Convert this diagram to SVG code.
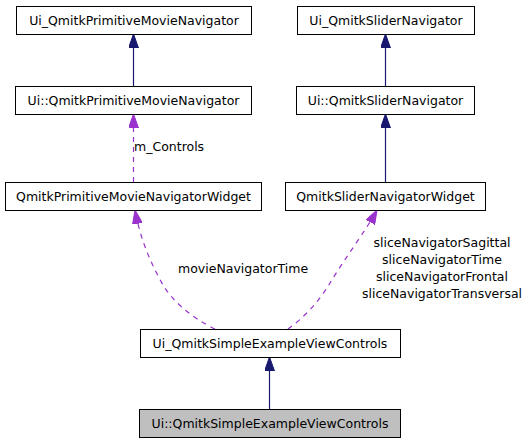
<svg xmlns="http://www.w3.org/2000/svg" width="528" height="443" viewBox="0 0 528 443">
<style>
.box{fill:#ffffff;stroke:#000000;stroke-width:1}
.cur{fill:#bfbfbf;stroke:#000000;stroke-width:1}
text{font-family:"DejaVu Sans",sans-serif;font-size:12.5px;fill:#000000}
.c{text-anchor:middle}
.inh{fill:none;stroke:#191970;stroke-width:1.2}
.use{fill:none;stroke:#9a32cd;stroke-width:1.2;stroke-dasharray:5,5}
</style>
<defs>
<marker id="an" markerUnits="userSpaceOnUse" viewBox="0 0 14 10" markerWidth="14" markerHeight="10" refX="14" refY="5" orient="auto"><path d="M0,0 L14,5 L0,10 z" fill="#191970" stroke="#191970"/></marker>
<marker id="ap" markerUnits="userSpaceOnUse" viewBox="0 0 14 10" markerWidth="14" markerHeight="10" refX="14" refY="5" orient="auto"><path d="M0,0 L14,5 L0,10 z" fill="#9a32cd" stroke="#9a32cd"/></marker>
</defs>
<rect width="528" height="443" fill="#ffffff"/>
<g id="connectors">
<path class="inh" d="M133.5,86 L133.5,34" marker-end="url(#an)"/>
<path class="use" d="M133.5,182 L133.5,114" marker-end="url(#ap)"/>
<path class="inh" d="M385.5,86 L385.5,34" marker-end="url(#an)"/>
<path class="inh" d="M385.5,182 L385.5,114" marker-end="url(#an)"/>
<path class="use" d="M215,329 C190,317 172,300 163,285 C150,262 140,238 135,210" marker-end="url(#ap)"/>
<path class="use" d="M288,329 C305,317 320,300 330,283 C345,258 365,232 377,210" marker-end="url(#ap)"/>
<path class="inh" d="M269.5,409 L269.5,357" marker-end="url(#an)"/>
<text x="134" y="151">m_Controls</text>
<text x="178" y="273">movieNavigatorTime</text>
<text class="c" x="442" y="247">sliceNavigatorSagittal</text>
<text class="c" x="442" y="264">sliceNavigatorTime</text>
<text class="c" x="442" y="281">sliceNavigatorFrontal</text>
<text class="c" x="442" y="298">sliceNavigatorTransversal</text>
</g>
<g id="n1"><rect class="box" x="16.5" y="6.5" width="235" height="28"/><text class="c" x="134" y="25">Ui_QmitkPrimitiveMovieNavigator</text></g>
<g id="n2"><rect class="box" x="15.5" y="86.5" width="236" height="28"/><text class="c" x="133.5" y="105">Ui::QmitkPrimitiveMovieNavigator</text></g>
<g id="n3"><rect class="box" x="5.5" y="182.5" width="256" height="28"/><text class="c" x="133.5" y="201">QmitkPrimitiveMovieNavigatorWidget</text></g>
<g id="n4"><rect class="box" x="297.5" y="6.5" width="177" height="28"/><text class="c" x="386" y="25">Ui_QmitkSliderNavigator</text></g>
<g id="n5"><rect class="box" x="296.5" y="86.5" width="178" height="28"/><text class="c" x="385.5" y="105">Ui::QmitkSliderNavigator</text></g>
<g id="n6"><rect class="box" x="285.5" y="182.5" width="200" height="28"/><text class="c" x="385.5" y="201">QmitkSliderNavigatorWidget</text></g>
<g id="n7"><rect class="box" x="140.5" y="329.5" width="260" height="28"/><text class="c" x="270" y="348">Ui_QmitkSimpleExampleViewControls</text></g>
<g id="n8"><rect class="cur" x="139.5" y="409.5" width="261" height="28"/><text class="c" x="270" y="428">Ui::QmitkSimpleExampleViewControls</text></g>
</svg>
